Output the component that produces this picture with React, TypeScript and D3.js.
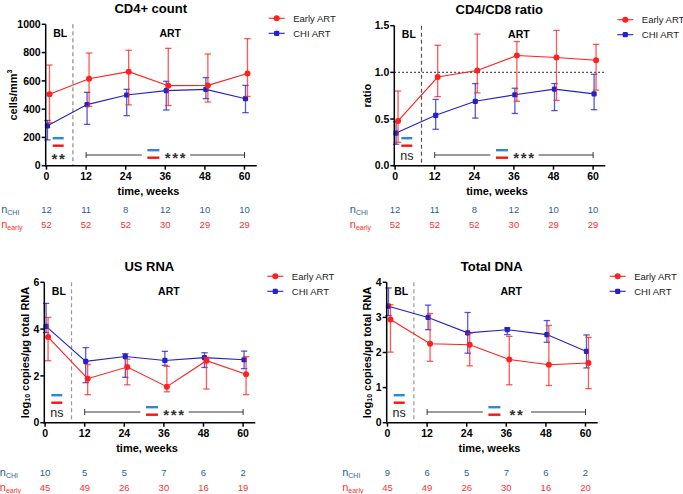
import React from 'react';
import * as d3 from 'd3';

// visit weeks
const weeks = [0, 12, 24, 36, 48, 60];

// CD4+ count (cells/mm3): mean with lower / upper error
const cd4Early = [505, 615, 665, 566, 568, 652];
const cd4EarlyLo = [304, 420, 430, 425, 450, 490];
const cd4EarlyHi = [712, 797, 816, 830, 790, 899];
const cd4Chi = [282, 432, 500, 531, 540, 474];
const cd4ChiLo = [182, 292, 354, 394, 474, 375];
const cd4ChiHi = [320, 519, 540, 597, 623, 568];

// CD4/CD8 ratio
const ratioEarly = [0.48, 0.95, 1.02, 1.18, 1.16, 1.13];
const ratioEarlyLo = [0.25, 0.74, 0.78, 0.69, 0.7, 0.81];
const ratioEarlyHi = [0.8, 1.29, 1.41, 1.33, 1.45, 1.3];
const ratioChi = [0.35, 0.54, 0.69, 0.76, 0.82, 0.77];
const ratioChiLo = [0.23, 0.39, 0.51, 0.56, 0.59, 0.6];
const ratioChiHi = [0.47, 0.71, 0.88, 0.83, 0.88, 0.98];

// US RNA (log10 copies/ug)
const rnaEarly = [3.66, 1.88, 2.38, 1.54, 2.65, 2.07];
const rnaEarlyLo = [2.65, 1.2, 1.62, 1.32, 1.44, 1.2];
const rnaEarlyHi = [4.5, 2.49, 2.71, 2.41, 2.79, 2.82];
const rnaChi = [4.12, 2.62, 2.83, 2.66, 2.78, 2.69];
const rnaChiLo = [3.85, 1.71, 1.94, 2.45, 2.36, 2.31];
const rnaChiHi = [5.1, 3.21, 2.95, 3.05, 2.99, 3.06];

// Total DNA
const dnaEarly = [2.94, 2.25, 2.22, 1.8, 1.65, 1.7];
const dnaEarlyLo = [2.01, 1.75, 1.62, 1.08, 1.06, 0.97];
const dnaEarlyHi = [3.36, 3.11, 2.55, 2.46, 2.77, 2.43];
const dnaChi = [3.32, 3.0, 2.56, 2.65, 2.51, 2.03];
const dnaChiLo = [3.05, 2.65, 1.98, 2.51, 2.29, 1.56];
const dnaChiHi = [3.84, 3.35, 3.14, 2.7, 2.91, 2.5];

// patients per visit
const cd4NChi = [12, 11, 8, 12, 10, 10];
const cd4NEarly = [52, 52, 52, 30, 29, 29];
const rnaNChi = [10, 5, 5, 7, 6, 2];
const rnaNEarly = [45, 49, 26, 30, 16, 19];
const dnaNChi = [9, 6, 5, 7, 6, 2];
const dnaNEarly = [45, 49, 26, 30, 16, 20];

const FONT = "'Liberation Sans', Arial, Helvetica, sans-serif";
const RED = '#ff2020';
const BLUE = '#2222c8';
const N_BLUE = '#2f5f8f';
const N_RED = '#ff3030';

type Series = { v: number[]; lo: number[]; hi: number[]; color: string; dx: number; square: boolean };

interface PanelCfg {
  title: string;
  yLabel: React.ReactNode;
  axisX: number;
  top: number;
  bottom: number;
  yDomain: [number, number];
  yTicks: number[];
  yFmt: (d: number) => string;
  yLabelX: number;
  early: Series;
  chi: Series;
  nChi: number[];
  nEarly: number[];
  nOff: number;
  blSig: string;
  artSig: string;
  refLine?: number;
  vColor: string;
}

const mk = (v: number[], lo: number[], hi: number[], early: boolean): Series => ({
  v, lo, hi, color: early ? RED : BLUE, dx: early ? 0.9 : 0.3, square: !early,
});

const cellsLabel = (
  <>cells/mm<tspan fontSize={7} dy={-4}>3</tspan></>
);
const logLabel = (
  <>log<tspan fontSize={7} dy={2}>10</tspan><tspan dy={-2}> copies/µg total RNA</tspan></>
);

const panels: PanelCfg[] = [
  {
    title: 'CD4+ count', yLabel: cellsLabel, axisX: 45.7, top: 24.3, bottom: 165.7,
    yDomain: [0, 1000], yTicks: [0, 200, 400, 600, 800, 1000], yFmt: d => String(d), yLabelX: -33,
    early: mk(cd4Early, cd4EarlyLo, cd4EarlyHi, true), chi: mk(cd4Chi, cd4ChiLo, cd4ChiHi, false),
    nChi: cd4NChi, nEarly: cd4NEarly, nOff: 47.6, blSig: '**', artSig: '***', vColor: '#8a8a8a',
  },
  {
    title: 'CD4/CD8 ratio', yLabel: 'ratio', axisX: 394.3, top: 25.7, bottom: 165.7,
    yDomain: [0, 1.5], yTicks: [0, 0.5, 1, 1.5], yFmt: d3.format('.1f'), yLabelX: -27,
    early: mk(ratioEarly, ratioEarlyLo, ratioEarlyHi, true), chi: mk(ratioChi, ratioChiLo, ratioChiHi, false),
    nChi: cd4NChi, nEarly: cd4NEarly, nOff: 47.6, blSig: 'ns', artSig: '***', refLine: 1, vColor: '#555',
  },
  {
    title: 'US RNA', yLabel: logLabel, axisX: 44.3, top: 282.3, bottom: 422.7,
    yDomain: [0, 6], yTicks: [0, 2, 4, 6], yFmt: d => String(d), yLabelX: -19.5,
    early: mk(rnaEarly, rnaEarlyLo, rnaEarlyHi, true), chi: mk(rnaChi, rnaChiLo, rnaChiHi, false),
    nChi: rnaNChi, nEarly: rnaNEarly, nOff: 53, blSig: 'ns', artSig: '***', vColor: '#999',
  },
  {
    title: 'Total DNA', yLabel: logLabel, axisX: 386.7, top: 282.3, bottom: 422.7,
    yDomain: [0, 4], yTicks: [0, 1, 2, 3, 4], yFmt: d => String(d), yLabelX: -19.5,
    early: mk(dnaEarly, dnaEarlyLo, dnaEarlyHi, true), chi: mk(dnaChi, dnaChiLo, dnaChiHi, false),
    nChi: dnaNChi, nEarly: dnaNEarly, nOff: 53, blSig: 'ns', artSig: '**', vColor: '#999',
  },
];

const Marker: React.FC<{ cx: number; cy: number; s: Series }> = ({ cx, cy, s }) =>
  s.square
    ? <rect x={cx - 2.6} y={cy - 2.6} width={5.2} height={5.2} rx={1.2} fill={s.color} />
    : <circle cx={cx} cy={cy} r={3} fill={s.color} />;

const Stars: React.FC<{ cx: number; cy: number; label: string }> = ({ cx, cy, label }) => {
  if (label === 'ns') {
    return <text x={cx} y={cy + 4} textAnchor="middle" fontSize={12.5} fill="#222">ns</text>;
  }
  const n = label.length;
  return (
    <g fill="#333">
      {d3.range(n).map(i => (
        <text key={i} x={cx + (i - (n - 1) / 2) * 7.5} y={cy + 8.5} textAnchor="middle" fontSize={15} fontWeight="bold">*</text>
      ))}
    </g>
  );
};

const Panel: React.FC<{ p: PanelCfg }> = ({ p }) => {
  const x = d3.scaleLinear().domain([0, 60]).range([p.axisX + 0.8, p.axisX + 198.8]);
  const y = d3.scaleLinear().domain(p.yDomain).range([p.bottom, p.top]);
  const right = p.axisX + 211;
  const mid = (p.top + p.bottom) / 2;

  const drawSeries = (s: Series, key: string) => {
    const line = d3.line<number>().x((_, i) => x(weeks[i] + s.dx)).y(d => y(d));
    return (
      <g key={key}>
        <path d={line(s.v) ?? ''} fill="none" stroke={s.color} strokeWidth={1.1} />
        {weeks.map((w, i) => {
          const cx = x(w + s.dx);
          return (
            <g key={w} stroke={s.color} strokeWidth={1.3} strokeOpacity={0.75}>
              <line x1={cx} x2={cx} y1={y(s.lo[i])} y2={y(s.hi[i])} />
              <line x1={cx - 3.2} x2={cx + 3.2} y1={y(s.lo[i])} y2={y(s.lo[i])} />
              <line x1={cx - 3.2} x2={cx + 3.2} y1={y(s.hi[i])} y2={y(s.hi[i])} />
            </g>
          );
        })}
        {weeks.map((w, i) => <Marker key={w} cx={x(w + s.dx)} cy={y(s.v[i])} s={s} />)}
      </g>
    );
  };

  const x12 = x(12);
  const bY = p.bottom - 10.7;
  const legend = [
    { name: 'Early ART', s: p.early, dy: -6 },
    { name: 'CHI ART', s: p.chi, dy: 9 },
  ];

  return (
    <g fontFamily={FONT}>
      <text x={p.axisX + 105} y={p.top - 11.5} textAnchor="middle" fontSize={13} fontWeight="bold">{p.title}</text>

      {/* baseline / ART split */}
      <line x1={x(8)} x2={x(8)} y1={p.top} y2={p.bottom} stroke={p.vColor} strokeWidth={1.2} strokeDasharray="4,3" />
      {p.refLine !== undefined && (
        <line x1={p.axisX} x2={right} y1={y(p.refLine)} y2={y(p.refLine)} stroke="#222" strokeWidth={1.4} strokeDasharray="1.5,2.5" />
      )}
      <text x={p.axisX + 7.5} y={p.top + 12.5} fontSize={10.5} fontWeight="bold">BL</text>
      <text x={x(37.5)} y={p.top + 12.5} fontSize={10.5} fontWeight="bold" textAnchor="middle">ART</text>

      {drawSeries(p.chi, 'chi')}
      {drawSeries(p.early, 'early')}

      {/* significance marks */}
      <line x1={p.axisX + 7} x2={p.axisX + 18} y1={p.bottom - 27.5} y2={p.bottom - 27.5} stroke="#2b8ad6" strokeWidth={2.4} />
      <line x1={p.axisX + 7} x2={p.axisX + 18} y1={p.bottom - 20} y2={p.bottom - 20} stroke="#ff1010" strokeWidth={2.4} />
      <Stars cx={p.axisX + 12.5} cy={p.bottom - 10} label={p.blSig} />
      <g stroke="#222" strokeWidth={0.9}>
        <line x1={x12} x2={x12 + 55.7} y1={bY} y2={bY} />
        <line x1={x12 + 104} x2={x(60)} y1={bY} y2={bY} />
        <line x1={x12} x2={x12} y1={bY - 3} y2={bY + 3} />
        <line x1={x(60)} x2={x(60)} y1={bY - 3} y2={bY + 3} />
      </g>
      <line x1={x12 + 61.3} x2={x12 + 73.3} y1={p.bottom - 15.5} y2={p.bottom - 15.5} stroke="#2b8ad6" strokeWidth={2.4} />
      <line x1={x12 + 61.3} x2={x12 + 73.3} y1={p.bottom - 8} y2={p.bottom - 8} stroke="#ff1010" strokeWidth={2.4} />
      <Stars cx={x12 + 89} cy={p.bottom - 11.4} label={p.artSig} />

      {/* axes */}
      <g stroke="#000" strokeWidth={1.5}>
        <line x1={p.axisX} x2={p.axisX} y1={p.top} y2={p.bottom + 0.75} />
        <line x1={p.axisX - 0.75} x2={right} y1={p.bottom} y2={p.bottom} />
        {p.yTicks.map(t => <line key={t} x1={p.axisX - 4} x2={p.axisX} y1={y(t)} y2={y(t)} />)}
        {weeks.map(w => <line key={w} x1={x(w)} x2={x(w)} y1={p.bottom} y2={p.bottom + 4} />)}
      </g>
      {p.yTicks.map(t => (
        <text key={t} x={p.axisX - 5} y={y(t) + 3.7} textAnchor="end" fontSize={10.5} fontWeight="bold">{p.yFmt(t)}</text>
      ))}
      {weeks.map(w => (
        <text key={w} x={x(w)} y={p.bottom + 14.4} textAnchor="middle" fontSize={10.5} fontWeight="bold">{w}</text>
      ))}
      <text x={x(30) + 3} y={p.bottom + 29} textAnchor="middle" fontSize={11} fontWeight="bold">time, weeks</text>
      <text transform={`translate(${p.axisX + p.yLabelX},${mid}) rotate(-90)`} textAnchor="middle" dominantBaseline="central" fontSize={11} fontWeight="bold">{p.yLabel}</text>

      {/* legend */}
      {legend.map(l => {
        const ly = p.top + l.dy;
        const lx = p.axisX + 223;
        return (
          <g key={l.name}>
            <line x1={lx} x2={lx + 16} y1={ly} y2={ly} stroke={l.s.color} strokeWidth={1.1} />
            <Marker cx={lx + 8} cy={ly} s={l.s} />
            <text x={lx + 24.5} y={ly + 3.3} fontSize={9.5} fill="#222">{l.name}</text>
          </g>
        );
      })}

      {/* n per visit */}
      <text x={p.axisX - 44.5} y={p.bottom + p.nOff} fontSize={11} fill={N_BLUE}>n<tspan fontSize={7} dy={2}>CHI</tspan></text>
      <text x={p.axisX - 44.5} y={p.bottom + p.nOff + 15} fontSize={11} fill={N_RED}>n<tspan fontSize={7} dy={2}>early</tspan></text>
      {weeks.map((w, i) => (
        <g key={w} fontSize={9.5} textAnchor="middle">
          <text x={x(w)} y={p.bottom + p.nOff} fill={N_BLUE}>{p.nChi[i]}</text>
          <text x={x(w)} y={p.bottom + p.nOff + 15} fill={N_RED}>{p.nEarly[i]}</text>
        </g>
      ))}
    </g>
  );
};

export default function App() {
  return (
    <div style={{ position: 'absolute', left: 0, top: 0, width: 683, height: 494, background: '#fff' }}>
      <svg width={683} height={494} viewBox="0 0 683 494" style={{ display: 'block' }}>
        <rect width={683} height={494} fill="#fff" />
        {panels.map(p => <Panel key={p.title} p={p} />)}
      </svg>
    </div>
  );
}
